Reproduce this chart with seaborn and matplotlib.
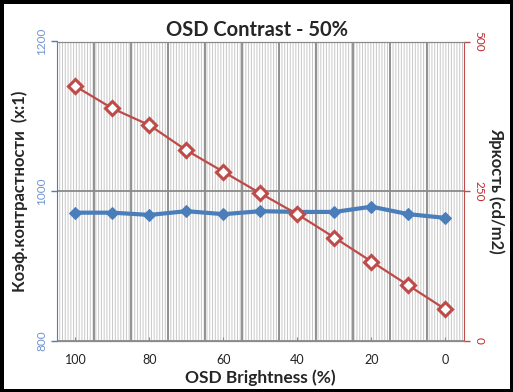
import matplotlib
matplotlib.use("Agg")
import matplotlib.pyplot as plt
import seaborn as sns
import pandas as pd
from matplotlib.ticker import FixedLocator

# данные
brightness = [100, 90, 80, 70, 60, 50, 40, 30, 20, 10, 0]
contrast = [971, 971, 968, 973, 969, 973, 972, 972, 979, 969, 964]
luminance = [425, 388, 360, 318, 282, 246, 211, 172, 132, 92, 52]
x_ticks = [100, 80, 60, 40, 20, 0]
grid_x = [95, 85, 75, 65, 55, 45, 35, 25, 15, 5]

blue = '#4a7ebb'
red = '#be4b48'
blue_txt = '#6f95d0'
red_txt = '#c0272d'
grid_col = '#8a8a8a'

df = pd.DataFrame({'brightness': brightness, 'contrast': contrast, 'luminance': luminance})

sns.set_style('white')
plt.rcParams['font.family'] = ['Lato', 'DejaVu Sans']
plt.rcParams['hatch.color'] = '#c8c8c8'
plt.rcParams['hatch.linewidth'] = 0.7

fig = plt.figure(figsize=(5.13, 3.92), dpi=100)
fig.patch.set_edgecolor('black')
fig.patch.set_linewidth(5)
ax = fig.add_axes([57 / 513, 1 - 340.5 / 392, 407 / 513, 299 / 392])
ax2 = ax.twinx()

# фон со штриховкой
ax.patch.set_hatch('||||||')
ax.patch.set_edgecolor('#c8c8c8')
ax.patch.set_linewidth(0)

sns.lineplot(data=df, x='brightness', y='contrast', ax=ax, color=blue, linewidth=3,
             marker='D', markersize=6, markeredgecolor=blue, zorder=5)
sns.lineplot(data=df, x='brightness', y='luminance', ax=ax2, color=red, linewidth=1.6,
             marker='D', markersize=7, markerfacecolor='white', markeredgecolor=red,
             markeredgewidth=2.2, zorder=5)

ax.set_xlim(105, -5)
ax.set_ylim(800, 1200)
ax2.set_ylim(0, 500)

ax.xaxis.set_major_locator(FixedLocator(x_ticks))
ax.xaxis.set_minor_locator(FixedLocator(grid_x))
ax.set_yticks([800, 1000, 1200])
ax2.set_yticks([0, 250, 500])

ax.grid(which='minor', axis='x', color=grid_col, linewidth=1.3)
ax.grid(which='major', axis='y', color=grid_col, linewidth=1.3)
ax.set_axisbelow(True)

for s in ['top', 'bottom']:
    ax.spines[s].set_color(grid_col)
    ax2.spines[s].set_color(grid_col)
ax.spines['left'].set_color(blue)
ax2.spines['right'].set_color(red)
ax2.spines['left'].set_visible(False)
ax.spines['right'].set_visible(False)

ax.tick_params(axis='y', colors=blue, labelcolor=blue_txt, labelsize=8.5,
               direction='out', length=4, width=1, left=True, pad=3)
for lbl in ax.get_yticklabels():
    lbl.set_rotation(90)
    lbl.set_va('center')
ax2.tick_params(axis='y', colors=red, labelcolor=red_txt, labelsize=8.5,
                direction='out', length=4, width=1, right=True, pad=3)
for lbl in ax2.get_yticklabels():
    lbl.set_rotation(270)
    lbl.set_va('center')
ax.tick_params(axis='x', which='major', labelsize=9, labelcolor='#222222',
               direction='in', length=3, color=grid_col, bottom=True, pad=10)
ax.tick_params(axis='x', which='minor', length=0)

ax.set_xlabel('OSD Brightness (%)', fontsize=12.5, fontweight='bold', labelpad=2)
ax.set_ylabel('Коэф.контрастности  (x:1)', fontsize=12, fontweight='bold')
ax.yaxis.set_label_coords(-0.071, 0.5)
ax2.set_ylabel('Яркость (cd/m2)', fontsize=12, fontweight='bold', rotation=270,
               va='center')
ax2.yaxis.set_label_coords(1.08, 0.5)
fig.suptitle('OSD Contrast - 50%', fontsize=14.5, fontweight='bold', x=0.5, y=0.95)

fig.savefig('out.png', dpi=100)
